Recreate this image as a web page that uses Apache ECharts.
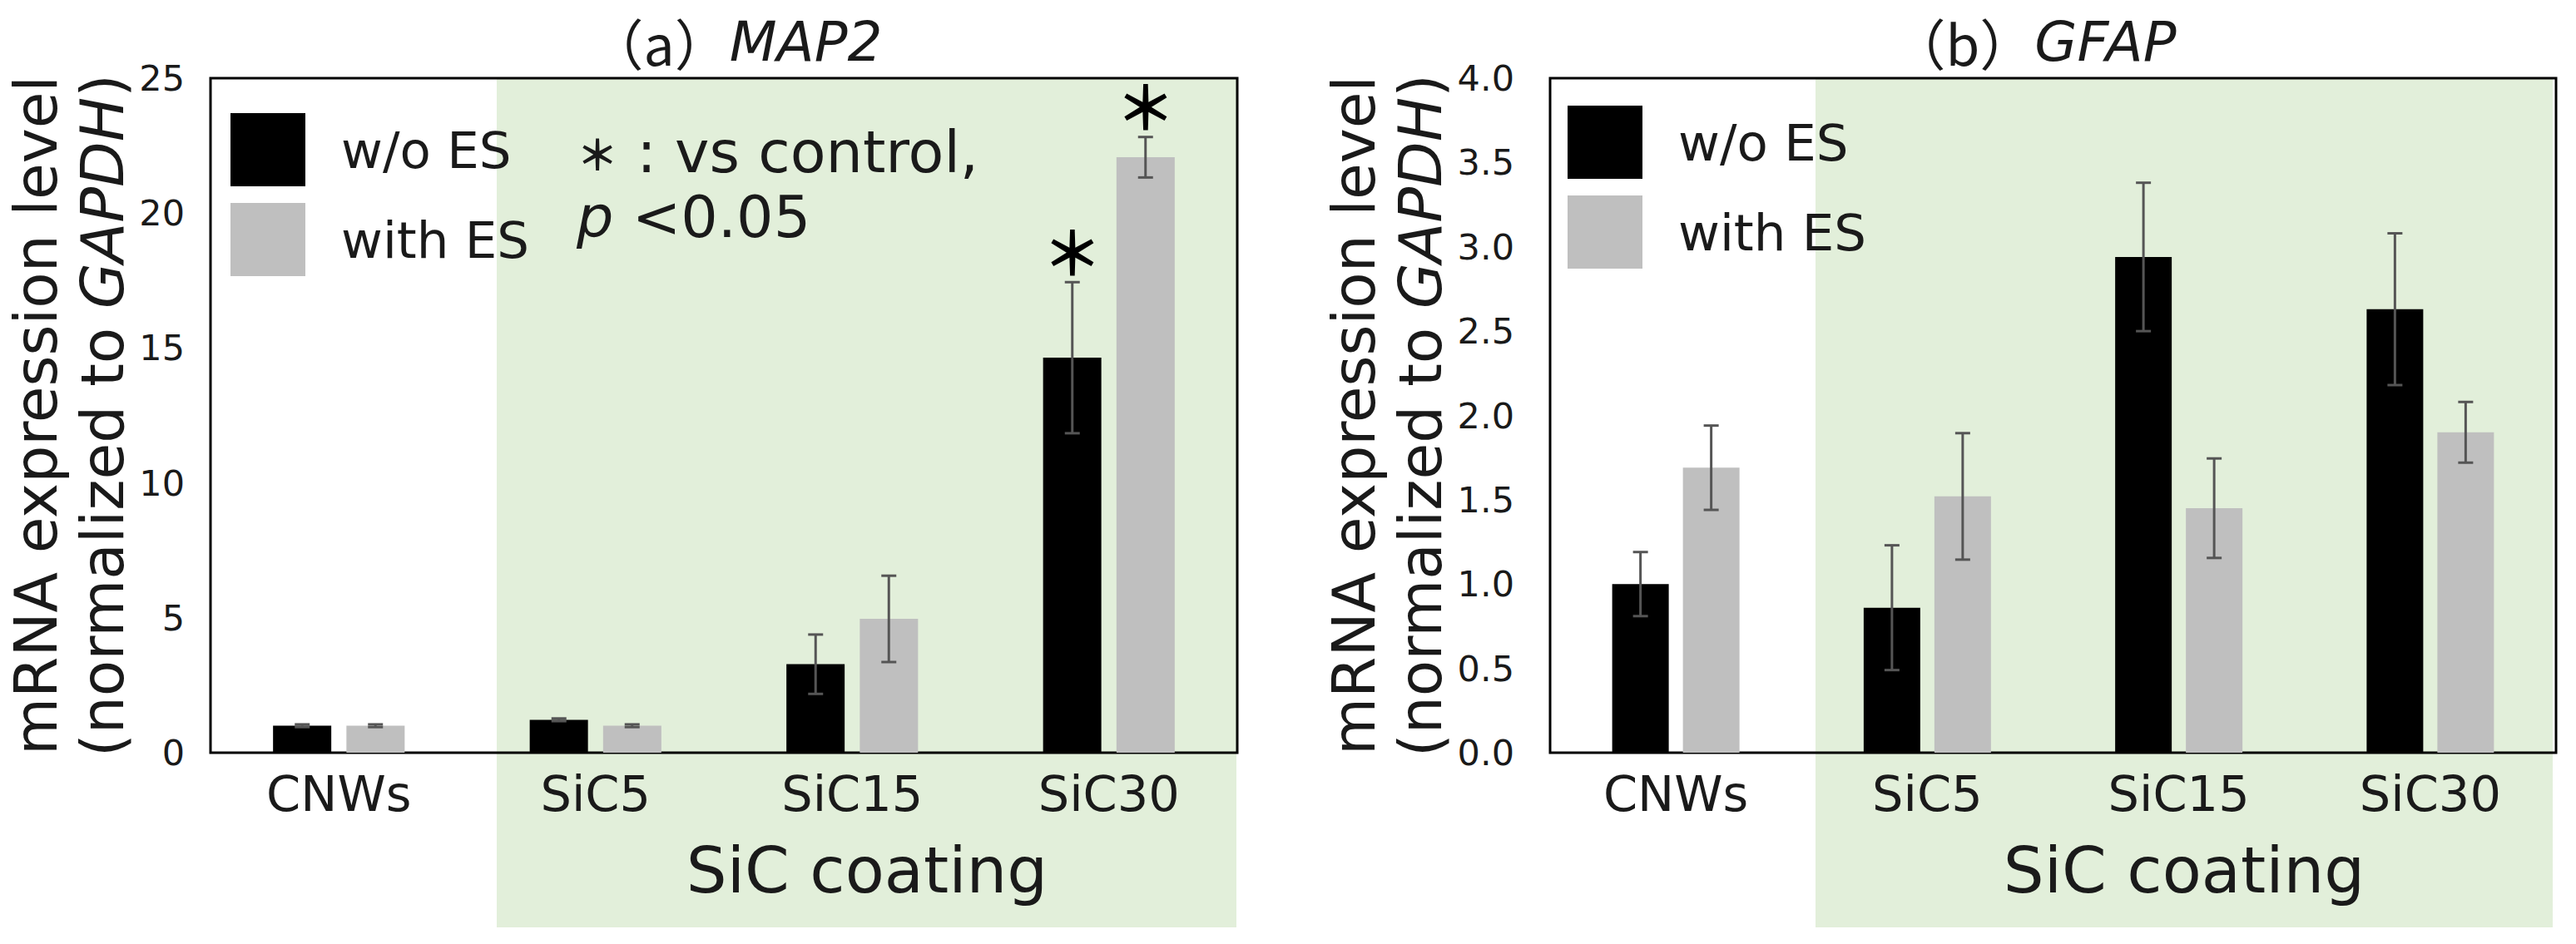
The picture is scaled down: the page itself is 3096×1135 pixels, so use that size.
<!DOCTYPE html>
<html>
<head>
<meta charset="utf-8">
<title>MAP2 / GFAP mRNA expression</title>
<script src="https://cdn.jsdelivr.net/npm/echarts@6/dist/echarts.min.js"></script>
<style>
  html, body { margin: 0; padding: 0; background: #fff; }
  #chart { width: 3096px; height: 1135px; }
</style>
</head>
<body>
<div id="chart"></div>
<script>
// categories and values
const categories = ['CNWs', 'SiC5', 'SiC15', 'SiC30'];

// (a) MAP2
const map2NoES = [1.0, 1.22, 3.28, 14.64];
const map2NoESErr = [0.05, 0.05, 1.1, 2.8];
const map2NoESSig = [0, 0, 0, 1];
const map2ES = [1.0, 1.0, 4.96, 22.07];
const map2ESErr = [0.05, 0.05, 1.6, 0.75];
const map2ESSig = [0, 0, 0, 1];

// (b) GFAP
const gfapNoES = [1.0, 0.86, 2.94, 2.63];
const gfapNoESErr = [0.19, 0.37, 0.44, 0.45];
const gfapES = [1.69, 1.52, 1.45, 1.9];
const gfapESErr = [0.25, 0.375, 0.295, 0.18];

const font = '"DejaVu Sans", "Noto Sans CJK JP", sans-serif';
const cjk = '"Noto Sans CJK JP", "DejaVu Sans", sans-serif';
const ink = '#1a1a1a';

let myChart = echarts.init(document.getElementById('chart'), null, { renderer: 'svg' });

function errData(vals, errs, sig) {
  return vals.map((v, i) => [i, v, errs[i], sig ? sig[i] : 0]);
}

// error bars (and significance stars) drawn next to each bar
function errRender(offset) {
  return function (params, api) {
    let idx = api.value(0);
    let v = api.value(1);
    let e = api.value(2);
    let top = api.coord([idx, v + e]);
    let bot = api.coord([idx, v - e]);
    let x = top[0] + offset;
    let style = { stroke: '#555', lineWidth: 3 };
    let children = [
      { type: 'line', shape: { x1: x, y1: top[1], x2: x, y2: bot[1] }, style: style },
      { type: 'line', shape: { x1: x - 9, y1: top[1], x2: x + 9, y2: top[1] }, style: style },
      { type: 'line', shape: { x1: x - 9, y1: bot[1], x2: x + 9, y2: bot[1] }, style: style }
    ];
    if (api.value(3)) {
      children.push({
        type: 'text',
        x: x,
        y: top[1] - 4,
        style: {
          text: '＊', fontSize: 72, fontWeight: 'bold', fontFamily: cjk,
          fill: '#000', align: 'center', verticalAlign: 'bottom'
        }
      });
    }
    return { type: 'group', children: children };
  };
}

function yName() {
  return '{n|mRNA expression level}\n{n|(normalized to }{i|GAPDH}{n|)}';
}
const yNameStyle = {
  fontFamily: font,
  fontSize: 71,
  lineHeight: 80,
  color: ink,
  rich: {
    n: { fontFamily: font, fontSize: 71, lineHeight: 80, color: ink },
    i: { fontFamily: font, fontSize: 71, lineHeight: 80, color: ink, fontStyle: 'italic' }
  }
};

let option = {
  backgroundColor: '#fff',
  animation: false,
  grid: [
    { left: 253, top: 94, width: 1234, height: 811, show: true, borderColor: '#000', borderWidth: 3, backgroundColor: 'transparent' },
    { left: 1863, top: 94, width: 1209, height: 811, show: true, borderColor: '#000', borderWidth: 3, backgroundColor: 'transparent' }
  ],
  legend: [
    {
      data: ['w/o ES', 'with ES'],
      orient: 'vertical',
      left: 272, top: 131,
      itemWidth: 90, itemHeight: 88, itemGap: 20,
      icon: 'rect',
      textStyle: { fontFamily: font, fontSize: 61, color: ink, padding: [0, 0, 0, 38] }
    },
    {
      data: ['w/o ES', 'with ES'],
      orient: 'vertical',
      left: 1879, top: 122,
      itemWidth: 90, itemHeight: 88, itemGap: 20,
      icon: 'rect',
      textStyle: { fontFamily: font, fontSize: 61, color: ink, padding: [0, 0, 0, 38] }
    }
  ],
  xAxis: [0, 1].map(g => ({
    type: 'category',
    gridIndex: g,
    data: categories,
    axisLine: { show: false },
    axisTick: { show: false },
    axisLabel: { fontFamily: font, fontSize: 59, color: ink, margin: 20 },
    splitLine: { show: false }
  })),
  yAxis: [
    {
      type: 'value', gridIndex: 0, min: 0, max: 25, interval: 5,
      axisLine: { show: false }, axisTick: { show: false }, splitLine: { show: false },
      axisLabel: { fontFamily: font, fontSize: 43, color: ink, margin: 31 },
      name: yName(), nameLocation: 'middle', nameRotate: 90, nameGap: 87,
      nameTextStyle: yNameStyle
    },
    {
      type: 'value', gridIndex: 1, min: 0, max: 4, interval: 0.5,
      axisLine: { show: false }, axisTick: { show: false }, splitLine: { show: false },
      axisLabel: { fontFamily: font, fontSize: 43, color: ink, margin: 43, formatter: v => v.toFixed(1) },
      name: yName(), nameLocation: 'middle', nameRotate: 90, nameGap: 116,
      nameTextStyle: yNameStyle
    }
  ],
  graphic: [
    // green "SiC coating" bands
    { type: 'rect', z: -10, shape: { x: 597, y: 94, width: 889, height: 1021 }, style: { fill: '#e2efda' } },
    { type: 'rect', z: -10, shape: { x: 2182, y: 94, width: 886, height: 1021 }, style: { fill: '#e2efda' } },
    {
      type: 'text', x: 1042, y: 1046, z: 10,
      style: { text: 'SiC coating', fontFamily: font, fontSize: 77, fill: ink, align: 'center', verticalAlign: 'middle' }
    },
    {
      type: 'text', x: 2625, y: 1046, z: 10,
      style: { text: 'SiC coating', fontFamily: font, fontSize: 77, fill: ink, align: 'center', verticalAlign: 'middle' }
    },
    // panel titles
    {
      type: 'text', x: 884, y: 50, z: 10,
      style: {
        text: '{n|（a）}{i|MAP2}', align: 'center', verticalAlign: 'middle',
        rich: {
          n: { fontFamily: cjk, fontSize: 66, fill: ink },
          i: { fontFamily: font, fontSize: 66, fontStyle: 'italic', fill: ink }
        }
      }
    },
    {
      type: 'text', x: 2444, y: 50, z: 10,
      style: {
        text: '{n|（b）}{i|GFAP}', align: 'center', verticalAlign: 'middle',
        rich: {
          n: { fontFamily: cjk, fontSize: 66, fill: ink },
          i: { fontFamily: font, fontSize: 66, fontStyle: 'italic', fill: ink }
        }
      }
    },
    // significance note
    {
      type: 'text', x: 693, y: 222, z: 10,
      style: {
        text: '{s|＊}{n| : vs control,}\n{i|p}{n| <0.05}', align: 'left', verticalAlign: 'middle',
        rich: {
          s: { fontFamily: cjk, fontSize: 50, fontWeight: 'bold', lineHeight: 78, fill: ink },
          n: { fontFamily: font, fontSize: 70, lineHeight: 78, fill: ink },
          i: { fontFamily: font, fontSize: 70, lineHeight: 78, fontStyle: 'italic', fill: ink }
        }
      }
    }
  ],
  series: [
    {
      name: 'w/o ES', type: 'bar', xAxisIndex: 0, yAxisIndex: 0,
      data: map2NoES, barWidth: 70, barGap: '26%', itemStyle: { color: '#000' }, z: 2
    },
    {
      name: 'with ES', type: 'bar', xAxisIndex: 0, yAxisIndex: 0,
      data: map2ES, barWidth: 70, barGap: '26%', itemStyle: { color: '#bfbfbf' }, z: 2
    },
    {
      name: 'w/o ES', type: 'bar', xAxisIndex: 1, yAxisIndex: 1,
      data: gfapNoES, barWidth: 68, barGap: '25%', itemStyle: { color: '#000' }, z: 2
    },
    {
      name: 'with ES', type: 'bar', xAxisIndex: 1, yAxisIndex: 1,
      data: gfapES, barWidth: 68, barGap: '25%', itemStyle: { color: '#bfbfbf' }, z: 2
    },
    {
      name: 'errA1', type: 'custom', xAxisIndex: 0, yAxisIndex: 0, z: 4,
      renderItem: errRender(-44), encode: { x: 0, y: 1 },
      data: errData(map2NoES, map2NoESErr, map2NoESSig)
    },
    {
      name: 'errA2', type: 'custom', xAxisIndex: 0, yAxisIndex: 0, z: 4,
      renderItem: errRender(44), encode: { x: 0, y: 1 },
      data: errData(map2ES, map2ESErr, map2ESSig)
    },
    {
      name: 'errB1', type: 'custom', xAxisIndex: 1, yAxisIndex: 1, z: 4,
      renderItem: errRender(-42.5), encode: { x: 0, y: 1 },
      data: errData(gfapNoES, gfapNoESErr)
    },
    {
      name: 'errB2', type: 'custom', xAxisIndex: 1, yAxisIndex: 1, z: 4,
      renderItem: errRender(42.5), encode: { x: 0, y: 1 },
      data: errData(gfapES, gfapESErr)
    }
  ]
};

myChart.setOption(option, true);

window.addEventListener('resize', () => {
  myChart.resize();
});
</script>
</body>
</html>
